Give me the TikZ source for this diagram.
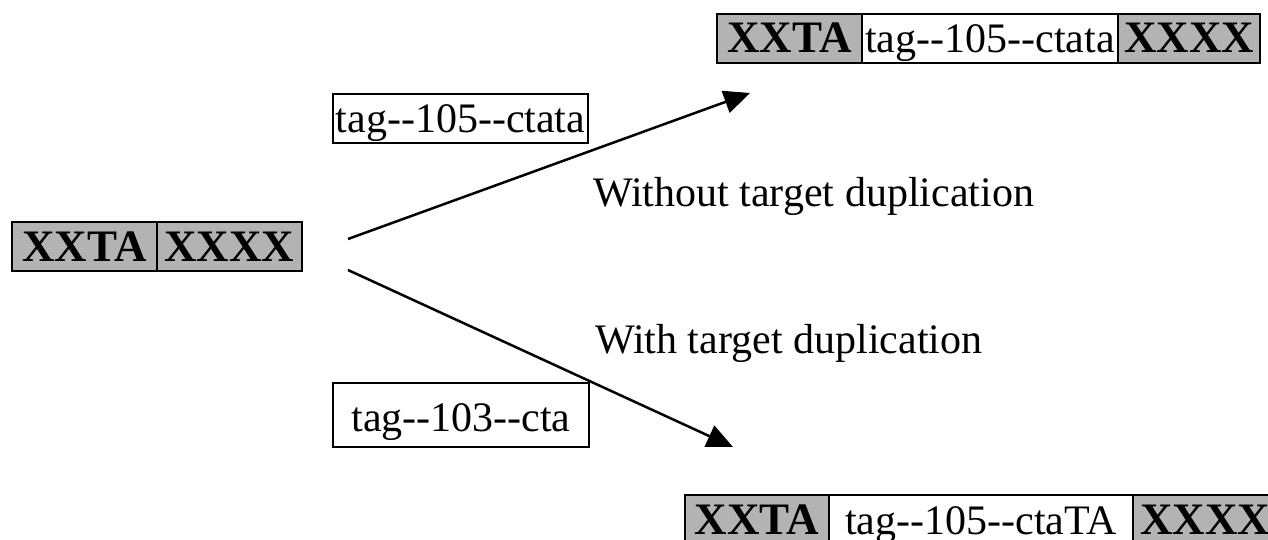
\documentclass[tikz,border=0pt]{standalone}
\usepackage{fontspec}
\setmainfont{Liberation Serif}
\usetikzlibrary{positioning,arrows.meta}

\definecolor{flankgray}{HTML}{B3B3B3}
% two separate hyphens, no en dash ligature
\newcommand{\hh}{-\kern0pt-}

\tikzset{
  seg/.style={draw, line width=2pt, inner sep=0pt, outer sep=0pt,
    minimum height=49, text height=29pt, text depth=0pt,
    font=\fontsize{42}{48}\selectfont},
  flank/.style={seg, fill=flankgray, font=\fontsize{45}{50}\selectfont\bfseries},
  insert/.style={seg, fill=white},
  flow/.style={line width=2.5pt, -{Triangle[length=26pt,width=23pt]}},
  caption/.style={inner sep=0pt, anchor=base west, font=\fontsize{42}{48}\selectfont}
}

\begin{document}
\begin{tikzpicture}[x=1pt, y=-1pt]
    \useasboundingbox (0,0) rectangle (1268,540);

    % Draw the target site before insertion
    \node[flank, minimum width=145, anchor=north west] (srcL) at (12,222) {XXTA};
    \node[flank, minimum width=145, right=0pt of srcL] (srcR) {XXXX};

    % Draw the product without target duplication
    \node[flank, minimum width=145, anchor=north west] (topL) at (717,14) {XXTA};
    \node[insert, minimum width=256, right=0pt of topL] (topM) {tag\hh105\hh ctata};
    \node[flank, minimum width=142, right=0pt of topM] (topR) {XXXX};

    % Draw the product with target duplication
    \node[flank, minimum width=144, minimum height=50, anchor=north west] (botL) at (685,495) {XXTA};
    \node[insert, minimum width=304, minimum height=50, right=0pt of botL] (botM) {tag\hh105\hh ctaTA};
    \node[flank, minimum width=144, minimum height=50, right=0pt of botM] (botR) {XXXX};

    % Draw the inserted tags
    \node[insert, minimum width=255, anchor=north west] (tagA) at (333,94) {tag\hh105\hh ctata};
    \node[insert, minimum width=256, minimum height=64, text height=33pt, anchor=north west] (tagB) at (333,383) {tag\hh103\hh cta};

    % Draw the two outcomes
    \coordinate (fromA) at (348,239);
    \coordinate (toA) at (750,93);
    \coordinate (fromB) at (348,270);
    \coordinate (toB) at (733,447);
    \draw[flow] (fromA) -- (toA);
    \draw[flow] (fromB) -- (toB);

    \node[caption] (capA) at (593,207) {Without target duplication};
    \node[caption] (capB) at (595,353) {With target duplication};
\end{tikzpicture}
\end{document}
